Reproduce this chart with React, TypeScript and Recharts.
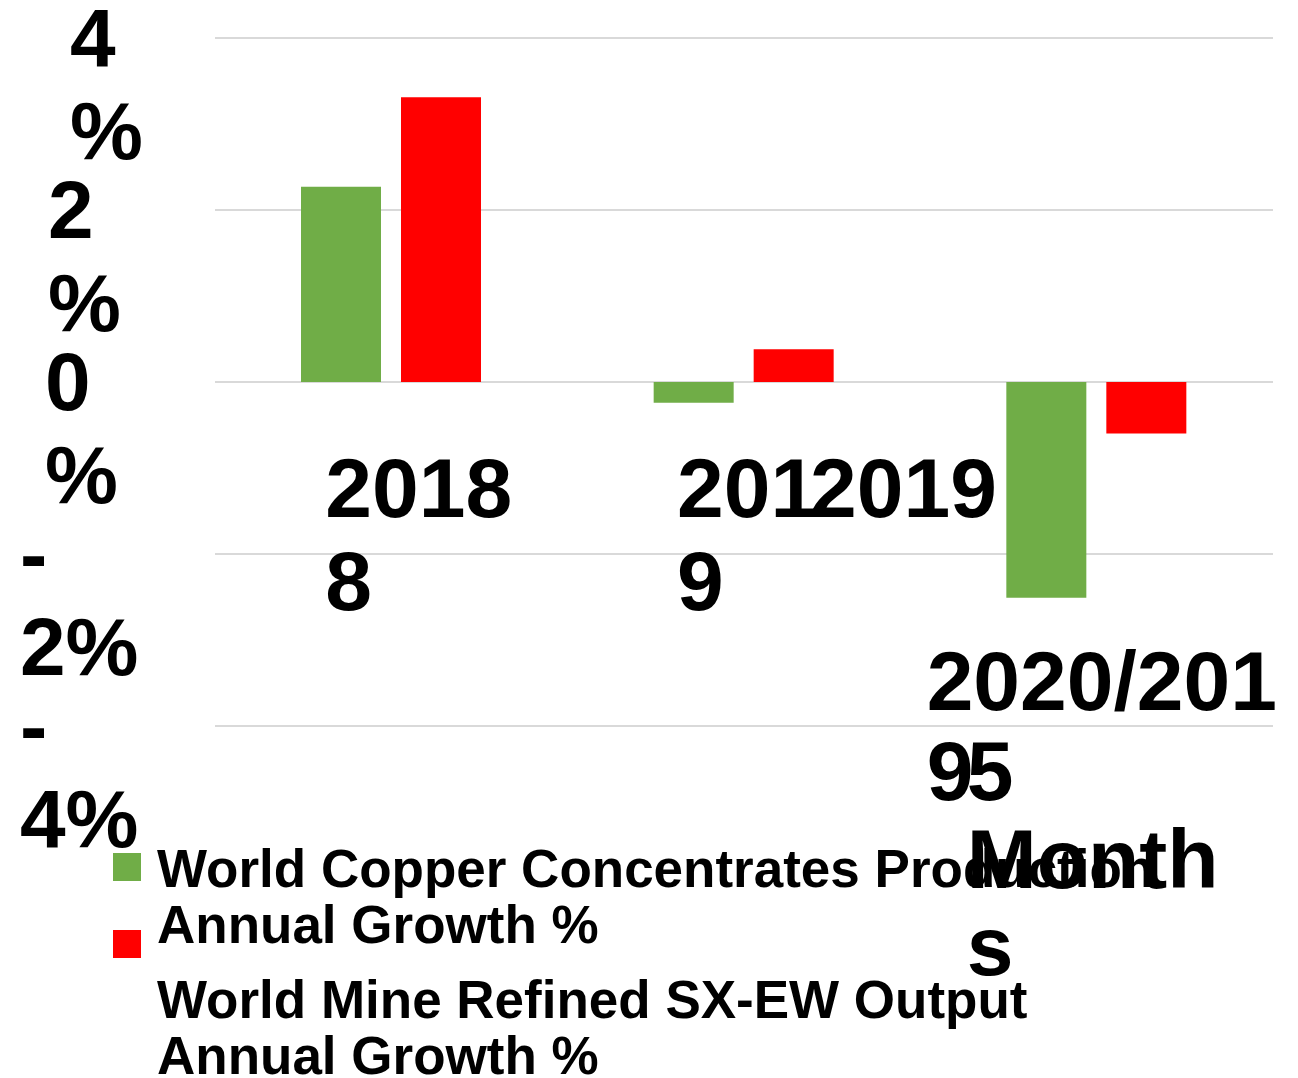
import { Bar, BarChart, CartesianGrid, XAxis, YAxis } from 'recharts'

const PERIODS = ['2018', '2019', '2020/2019 5 Months']
const CONCENTRATES_GROWTH = [2.27, -0.24, -2.51]
const SXEW_GROWTH = [3.31, 0.38, -0.6]
const Y_TICKS = [-4, -2, 0, 2, 4]
const SERIES = [
  { key: 'concentrates', name: 'World Copper Concentrates Production Annual Growth %', color: '#70ad47' },
  { key: 'sxew', name: 'World Mine Refined SX-EW Output Annual Growth %', color: '#ff0000' },
]

const FONT = '"Liberation Sans", Arial, sans-serif'

const data = PERIODS.map((period, i) => ({
  period,
  concentrates: CONCENTRATES_GROWTH[i],
  sxew: SXEW_GROWTH[i],
}))

// y labels are wrapped into two lines in the original
const Y_LABEL_LEFT = [20, 20, 45, 48, 70]

function YTick(props: any) {
  const { y, payload, index } = props
  const label = `${payload.value}%`
  const lines = label.startsWith('-') ? ['-', label.slice(1)] : [label.slice(0, -1), '%']
  const left = Y_LABEL_LEFT[index] ?? 20
  return (
    <g>
      {lines.map((line, i) => (
        <text key={i} x={left} y={y + 28 + i * 93} fontSize={82} fontWeight="bold" fontFamily={FONT} fill="#000">
          {line}
        </text>
      ))}
    </g>
  )
}

function XTick(props: any) {
  const { x, y, payload, index } = props
  const v: string = payload.value
  let pieces: Array<{ t: string; dx: number; dy: number }> = []
  if (index === 0) {
    pieces = [
      { t: v, dx: -66, dy: -209 },
      { t: v.slice(3), dx: -66, dy: -116 },
    ]
  } else if (index === 1) {
    pieces = [
      { t: v.slice(0, 3), dx: -67, dy: -209 },
      { t: v, dx: 66, dy: -209 },
      { t: v.slice(3), dx: -67, dy: -116 },
    ]
  } else {
    const [first, num, word] = v.split(' ')
    pieces = [
      { t: first.slice(0, 8), dx: -170, dy: -16 },
      { t: first.slice(8), dx: -170, dy: 74 },
      { t: num, dx: -130, dy: 74 },
      { t: word.slice(0, 5), dx: -130, dy: 162 },
      { t: word.slice(5), dx: -130, dy: 249 },
    ]
  }
  return (
    <g>
      {pieces.map((p, i) => (
        <text key={i} x={x + p.dx} y={y + p.dy} fontSize={84} fontWeight="bold" fontFamily={FONT} fill="#000">
          {p.t}
        </text>
      ))}
    </g>
  )
}

export default function App() {
  return (
    <div style={{ position: 'absolute', left: 0, top: 0, width: 1298, height: 1078, background: '#fff', overflow: 'hidden' }}>
      <BarChart
        width={1298}
        height={1078}
        data={data}
        margin={{ top: 38, right: 25, bottom: 0, left: 0 }}
        barSize={80}
        barGap={20}
      >
        <CartesianGrid stroke="#d9d9d9" strokeWidth={2} vertical={false} />
        <XAxis
          dataKey="period"
          axisLine={false}
          tickLine={false}
          tickSize={0}
          tickMargin={0}
          height={352}
          interval={0}
          tick={<XTick />}
        />
        <YAxis
          domain={[-4, 4]}
          ticks={Y_TICKS}
          axisLine={false}
          tickLine={false}
          tickSize={0}
          tickMargin={0}
          width={215}
          tick={<YTick />}
        />
        {SERIES.map((s) => (
          <Bar key={s.key} dataKey={s.key} name={s.name} fill={s.color} isAnimationActive={false} />
        ))}
      </BarChart>
      {SERIES.map((s, i) => (
        <div
          key={s.key}
          style={{ position: 'absolute', left: 113, top: 853 + i * 77, width: 28, height: 28, background: s.color }}
        />
      ))}
      <div
        style={{
          position: 'absolute',
          left: 157,
          top: 841,
          width: 1000,
          fontFamily: FONT,
          fontWeight: 'bold',
          fontSize: 53,
          lineHeight: '56px',
          color: '#000',
        }}
      >
        {SERIES.map((s) => (
          <div key={s.key} style={{ marginBottom: 19 }}>
            {s.name}
          </div>
        ))}
      </div>
    </div>
  )
}
